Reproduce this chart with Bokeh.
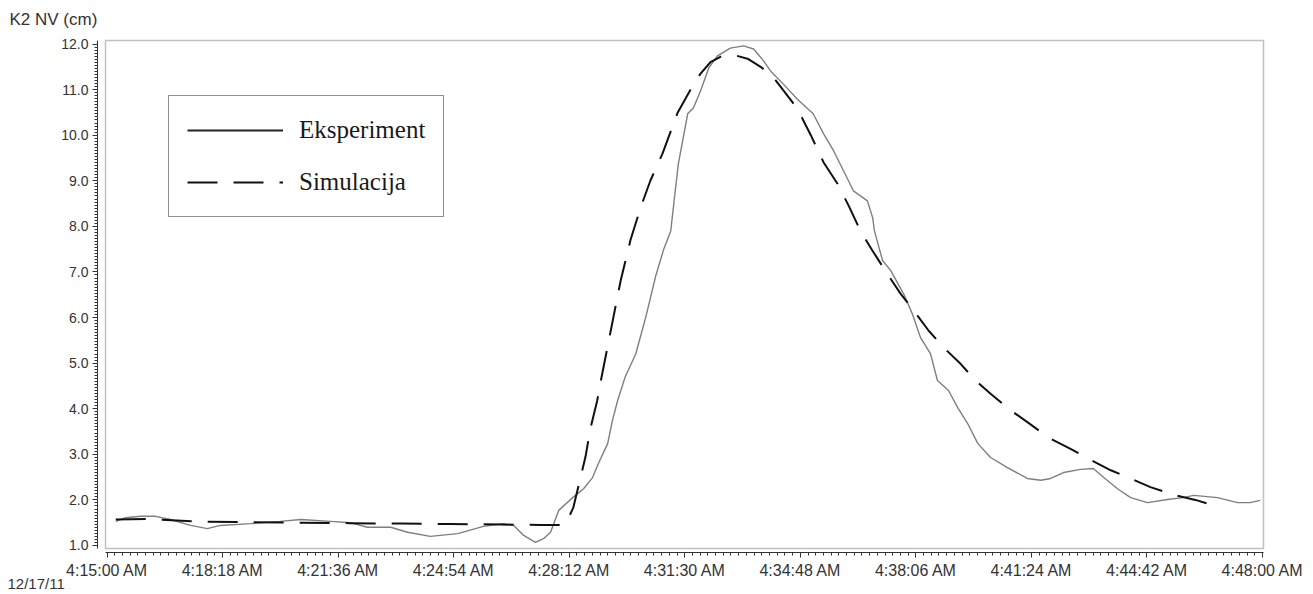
import pandas as pd
from bokeh.plotting import figure
from bokeh.models import (Range1d, LinearAxis, FixedTicker, PrintfTickFormatter,
                          Legend, LegendItem, Label, ColumnDataSource)
from bokeh.embed import file_html
from bokeh.resources import INLINE

# ---------------- data ----------------
y_title = "K2 NV (cm)"
date_text = "12/17/11"
start_time = "4:15:00"

x_tick_labels = ["4:15:00 AM", "4:18:18 AM", "4:21:36 AM", "4:24:54 AM", "4:28:12 AM",
                 "4:31:30 AM", "4:34:48 AM", "4:38:06 AM", "4:41:24 AM", "4:44:42 AM",
                 "4:48:00 AM"]
y_tick_values = [1.0, 2.0, 3.0, 4.0, 5.0, 6.0, 7.0, 8.0, 9.0, 10.0, 11.0, 12.0]

series_names = ["Eksperiment", "Simulacija"]

exp_time = ["4:15:15", "4:15:32", "4:15:57", "4:16:23", "4:16:49", "4:17:23", "4:17:52",
            "4:18:14", "4:19:06", "4:19:57", "4:20:32", "4:21:23", "4:21:57", "4:22:26",
            "4:23:06", "4:23:35", "4:24:14", "4:25:01", "4:25:45", "4:26:19", "4:26:37",
            "4:26:54", "4:27:14", "4:27:28", "4:27:40", "4:27:54", "4:28:18", "4:28:37",
            "4:28:52", "4:29:02", "4:29:18", "4:29:26", "4:29:35", "4:29:48", "4:30:06",
            "4:30:23", "4:30:40", "4:30:54", "4:31:06", "4:31:13", "4:31:19", "4:31:35",
            "4:31:45", "4:31:57", "4:32:11", "4:32:26", "4:32:48", "4:33:11", "4:33:28",
            "4:33:45", "4:33:57", "4:34:19", "4:34:43", "4:35:10", "4:35:28", "4:35:45",
            "4:36:02", "4:36:19", "4:36:43", "4:36:52", "4:36:55", "4:37:09", "4:37:23",
            "4:37:45", "4:38:00", "4:38:14", "4:38:31", "4:38:43", "4:39:02", "4:39:18",
            "4:39:35", "4:39:52", "4:40:14", "4:40:43", "4:41:17", "4:41:40", "4:41:57",
            "4:42:19", "4:42:48", "4:43:10", "4:43:28", "4:43:51", "4:44:14", "4:44:43",
            "4:45:17", "4:45:44", "4:46:02", "4:46:43", "4:47:17", "4:47:39", "4:47:56"]
exp_value = [1.53, 1.61, 1.64, 1.64, 1.57, 1.44, 1.37,
             1.44, 1.48, 1.53, 1.57, 1.53, 1.50, 1.40,
             1.40, 1.29, 1.20, 1.26, 1.42, 1.48, 1.44,
             1.22, 1.07, 1.15, 1.29, 1.77, 2.05, 2.25,
             2.49, 2.80, 3.24, 3.74, 4.18, 4.70, 5.20,
             6.00, 6.90, 7.50, 7.90, 8.70, 9.37, 10.47,
             10.60, 10.97, 11.47, 11.74, 11.91, 11.96, 11.89,
             11.63, 11.41, 11.12, 10.79, 10.47, 10.03, 9.66,
             9.22, 8.78, 8.56, 8.19, 7.90, 7.25, 7.03,
             6.52, 6.08, 5.56, 5.21, 4.62, 4.40, 4.02,
             3.67, 3.24, 2.93, 2.71, 2.47, 2.43, 2.47,
             2.60, 2.67, 2.69, 2.49, 2.25, 2.05, 1.94,
             2.01, 2.05, 2.10, 2.05, 1.94, 1.94, 1.99]

sim_time = ["4:15:15", "4:16:15", "4:17:40", "4:19:06", "4:20:32", "4:21:57", "4:23:23",
            "4:24:49", "4:26:14", "4:27:23", "4:28:00", "4:28:07", "4:28:19", "4:28:31",
            "4:28:40", "4:28:48", "4:29:00", "4:29:06", "4:29:23", "4:29:40", "4:29:57",
            "4:30:14", "4:30:31", "4:30:52", "4:31:18", "4:31:40", "4:31:57", "4:32:14",
            "4:32:31", "4:32:57", "4:33:19", "4:33:40", "4:34:00", "4:34:18", "4:34:43",
            "4:35:06", "4:35:28", "4:35:52", "4:36:11", "4:36:31", "4:36:52", "4:37:19",
            "4:37:40", "4:38:00", "4:38:28", "4:38:57", "4:39:23", "4:39:48", "4:40:14",
            "4:40:48", "4:41:23", "4:41:57", "4:42:31", "4:43:05", "4:43:40", "4:44:14",
            "4:44:48", "4:45:31", "4:46:05", "4:46:48"]
sim_value = [1.57, 1.58, 1.52, 1.51, 1.50, 1.49, 1.48,
             1.47, 1.46, 1.45, 1.45, 1.50, 1.83, 2.47,
             2.95, 3.55, 4.18, 4.60, 5.70, 6.80, 7.70,
             8.40, 9.00, 9.60, 10.50, 11.00, 11.35, 11.60,
             11.72, 11.75, 11.67, 11.50, 11.30, 11.00, 10.58,
             10.00, 9.40, 8.93, 8.45, 7.90, 7.46, 6.92,
             6.52, 6.19, 5.71, 5.30, 4.98, 4.62, 4.33,
             3.97, 3.65, 3.34, 3.12, 2.88, 2.65, 2.47,
             2.28, 2.10, 2.00, 1.83]


def to_seconds(s):
    h, m, sec = (int(v) for v in s.split(":"))
    return h * 3600 + m * 60 + sec


t0 = to_seconds(start_time)
exp_src = ColumnDataSource(dict(t=[to_seconds(s) - t0 for s in exp_time], v=exp_value))
sim_src = ColumnDataSource(dict(t=[to_seconds(s) - t0 for s in sim_time], v=sim_value))
tick_secs = [to_seconds(lbl.split()[0]) - t0 for lbl in x_tick_labels]
step = tick_secs[1] - tick_secs[0]
x_minor = [tick_secs[0] + k * step / 15 for k in range(15 * (len(tick_secs) - 1) + 1)]
y_minor = [y_tick_values[0] + k / 15 for k in range(15 * (len(y_tick_values) - 1) + 1)]

# ---------------- layout ----------------
W, H = 1305, 594
FL, FT, FW, FH = 105, 40, 1158, 508          # plot frame (pixels)
X0, X1 = -2.6, tick_secs[-1] + 1.7
Y0, Y1 = 0.934, 12.077


def px_to_x(px):
    return X0 + (px - FL) * (X1 - X0) / FW


def py_to_y(py):
    return Y1 - (py - FT) * (Y1 - Y0) / FH


FONT = "Liberation Sans"
TXT = "#333333"

p = figure(width=W, height=H, output_backend="svg", toolbar_location=None,
           x_range=Range1d(X0, X1), y_range=Range1d(Y0, Y1),
           min_border_left=FL, min_border_right=W - FL - FW,
           min_border_top=FT, min_border_bottom=H - FT - FH,
           background_fill_color="white", border_fill_color="white")
p.grid.visible = False
p.outline_line_color = "#c0c0c0"
p.outline_line_width = 1.5

# spacer axes (the default ones) that hold the real axes off the frame
for ax, gap, ticks in ((p.yaxis[0], 8, y_tick_values), (p.xaxis[0], 4, tick_secs)):
    ax.ticker = FixedTicker(ticks=ticks, minor_ticks=[])
    ax.axis_line_color = None
    ax.major_tick_line_color = "white"
    ax.major_tick_line_width = 0.1
    ax.minor_tick_line_color = None
    ax.major_tick_in = 0
    ax.major_tick_out = gap
    ax.major_label_standoff = 0
    ax.major_label_text_font_size = "1px"
    ax.major_label_text_color = "white"
    ax.major_label_overrides = {t: "" for t in ticks}

yax = LinearAxis(ticker=FixedTicker(ticks=y_tick_values, minor_ticks=y_minor),
                 formatter=PrintfTickFormatter(format="%.1f"))
xax = LinearAxis(ticker=FixedTicker(ticks=tick_secs, minor_ticks=x_minor),
                 major_label_overrides={t: lbl for t, lbl in zip(tick_secs, x_tick_labels)})
for ax in (xax, yax):
    ax.axis_line_color = TXT
    ax.axis_line_width = 1
    ax.major_tick_line_color = TXT
    ax.minor_tick_line_color = TXT
    ax.major_tick_in = 0
    ax.major_tick_out = 5
    ax.minor_tick_in = 0
    ax.minor_tick_out = 3
    ax.major_label_text_font = FONT
    ax.major_label_text_color = TXT
yax.major_label_text_font_size = "14px"
yax.major_label_standoff = 4
xax.major_label_text_font_size = "16px"
xax.major_label_standoff = 4
p.add_layout(yax, "left")
p.add_layout(xax, "below")

# lines
r_exp = p.line("t", "v", source=exp_src, line_color="#7f7f7f", line_width=1.4)
r_sim = p.line("t", "v", source=sim_src, line_color="#111111", line_width=2, line_dash="30 16")

# legend samples (hidden copies styled like the printed legend)
leg_exp = p.line("t", "v", source=exp_src, line_color="#222222", line_width=2, visible=False)
leg_sim = p.line("t", "v", source=sim_src, line_color="#111111", line_width=2,
                 line_dash="30 16", visible=False)
legend = Legend(items=[LegendItem(label=series_names[0], renderers=[leg_exp]),
                       LegendItem(label=series_names[1], renderers=[leg_sim])],
                location=(63, 331), margin=0, padding=18, spacing=20,
                glyph_width=96, glyph_height=32, label_height=32, label_standoff=16,
                label_text_font="Liberation Serif", label_text_font_size="25px",
                label_text_color="#1a1a1a", border_line_color="#222222",
                border_line_width=1.5, background_fill_color="white",
                background_fill_alpha=1.0, inactive_fill_alpha=0.0, click_policy="none")
p.add_layout(legend, "center")

p.add_layout(Label(x=px_to_x(9), y=py_to_y(19), text=y_title,
                   text_font=FONT, text_font_size="17px", text_color=TXT,
                   text_baseline="alphabetic"), "above")
p.add_layout(Label(x=px_to_x(7), y=py_to_y(583), text=date_text,
                   text_font=FONT, text_font_size="15px", text_color=TXT,
                   text_baseline="alphabetic"), "left")

open("out.html", "w").write(file_html(p, INLINE))
